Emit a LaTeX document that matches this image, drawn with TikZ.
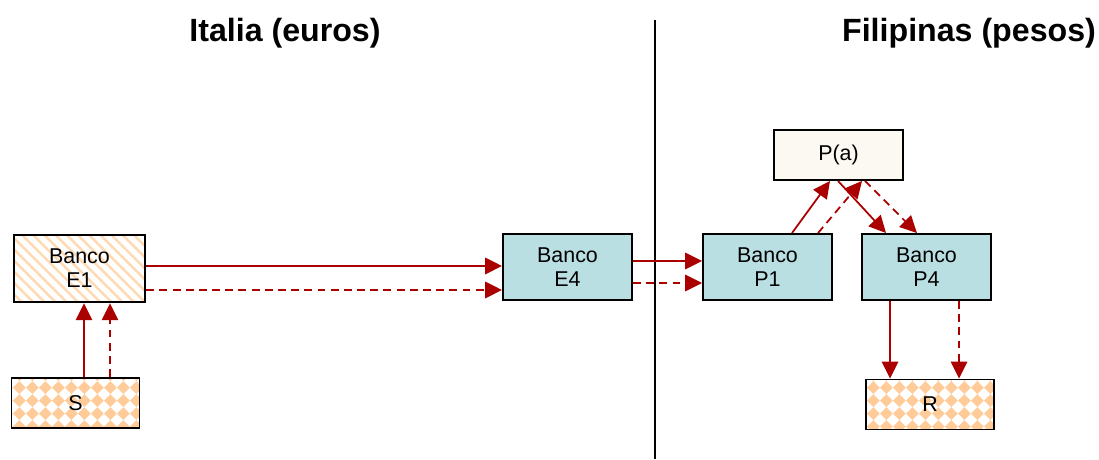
\documentclass[tikz,border=0pt]{standalone}
\usepackage{fontspec}
\setmainfont{Liberation Sans}
\usetikzlibrary{%
  arrows.meta,%
  patterns,%
  patterns.meta,% wg. Lines[...]
  positioning,%
  calc%
}
\definecolor{flowred}{RGB}{170,0,0}
\definecolor{bankcyan}{RGB}{186,223,227}
\definecolor{paper}{RGB}{252,249,242}
\definecolor{peach}{RGB}{255,204,153}
\tikzdeclarepattern{
  name=diamondcheck,
  type=uncolored,
  bounding box={(0,0) and (7.6pt,7.6pt)},
  tile size={(7.6pt,7.6pt)},
  code={\fill (0,3.8pt) -- (3.8pt,0) -- (7.6pt,3.8pt) -- (3.8pt,7.6pt) -- cycle;}
}
\begin{document}
\begin{tikzpicture}[
  font=\fontsize{12.2}{13.6}\selectfont, >={Triangle[length=3.4mm,width=3.3mm]},
  bank/.style={rectangle, minimum height=13.2mm, minimum width=25.8mm, draw=black, line width=1.1pt, fill=bankcyan, align=center},
  homebank/.style={bank, minimum height=13.4mm, minimum width=26.2mm, fill=orange!5, pattern={Lines[angle=-45,distance=4.5pt,line width=1.4pt]}, pattern color=orange!30},
  party/.style={rectangle, minimum height=10mm, minimum width=25.6mm, draw=black, line width=1.1pt, preaction={fill=white}, pattern=diamondcheck, pattern color=peach},
  rate/.style={rectangle, minimum height=10mm, minimum width=25.8mm, draw=black, line width=1.1pt, fill=paper},
  title/.style={font=\fontsize{18.3}{20}\selectfont\bfseries},
  flow/.style={->, draw=flowred, line width=1pt},
  back/.style={flow, dash pattern=on 4.5pt off 3pt}
]
\useasboundingbox (0,0) rectangle (21.98,9.18);

\node[title] (it) at (5.70,8.52) {Italia (euros)};
\node[title] (ph) at (19.38,8.52) {Filipinas (pesos)};
\draw[line width=0.9pt] (13.10,8.78) -- (13.10,0);

\node[homebank] (e1) at (1.59,3.81) {Banco\\E1};
\node[party] (s) at (1.51,1.12) {S};
\node[bank] (e4) at (11.35,3.84) {Banco\\E4};
\node[bank] (p1) at (15.35,3.84) {Banco\\P1};
\node[bank] (p4) at (18.53,3.84) {Banco\\P4};
\node[rate] (pa) at (16.77,6.08) {P(a)};
\node[party] (r) at (18.60,1.09) {R};

% Italia
\draw[flow] ([yshift=0.05cm]e1.east) -- ([yshift=0.05cm]e1.east -| e4.west);
\draw[back] ([yshift=-0.43cm]e1.east) -- ([yshift=-0.43cm]e1.east -| e4.west);
\draw[flow] ([xshift=0.17cm]s.north) -- ([xshift=0.17cm]s.north |- e1.south);
\draw[back] ([xshift=0.69cm]s.north) -- ([xshift=0.69cm]s.north |- e1.south);
\draw[flow] ([yshift=0.12cm]e4.east) -- ([yshift=0.12cm]e4.east -| p1.west);
\draw[back] ([yshift=-0.32cm]e4.east) -- ([yshift=-0.32cm]e4.east -| p1.west);

% Filipinas
\draw[flow] ([xshift=0.49cm]p1.north) -- ([xshift=-0.17cm]pa.south);
\draw[back] ([xshift=1.01cm]p1.north) -- ([xshift=0.47cm]pa.south);
\draw[flow] ([xshift=-0.01cm]pa.south) -- ([xshift=-0.81cm]p4.north);
\draw[back] ([xshift=0.53cm]pa.south) -- ([xshift=-0.19cm]p4.north);
\draw[flow] ([xshift=-0.73cm]p4.south) -- ([xshift=-0.73cm]p4.south |- r.north);
\draw[back] ([xshift=0.65cm]p4.south) -- ([xshift=0.65cm]p4.south |- r.north);
\end{tikzpicture}
\end{document}
